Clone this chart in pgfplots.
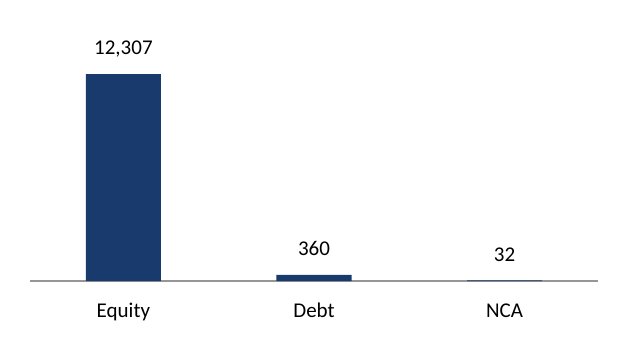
\documentclass[border=0pt]{standalone}
\usepackage{pgfplots}
\pgfplotsset{compat=1.18}
\usepackage{fontspec}
\setmainfont{Carlito}
\definecolor{barblue}{RGB}{24,58,109}
\definecolor{axgray}{RGB}{150,150,150}
\begin{document}
\begin{tikzpicture}[x=1bp,y=1bp]
\useasboundingbox (0,0) rectangle (626,351);
\begin{axis}[
  at={(30bp,70bp)}, anchor=south west,
  scale only axis, width=568bp, height=207bp,
  xmin=-0.49, xmax=2.49, ymin=0, ymax=12307,
  clip=false,
  axis y line=none,
  axis x line*=bottom,
  x axis line style={draw=axgray, line width=2bp, -},
  xtick={0,1,2}, xticklabels={Equity,Debt,NCA},
  major tick length=0pt,
  xticklabel style={font=\fontsize{21bp}{25bp}\selectfont, anchor=base, yshift=-36bp},
  ybar, bar width=0.394,
  nodes near coords,
  every node near coord/.append style={font=\fontsize{21bp}{25bp}\selectfont, anchor=base, yshift=19bp, text=black},
  point meta=explicit symbolic,
]
\addplot[fill=barblue, draw=none] coordinates {(0,12307) [12,307] (1,360) [360] (2,32) [32]};
\end{axis}
\end{tikzpicture}
\end{document}
